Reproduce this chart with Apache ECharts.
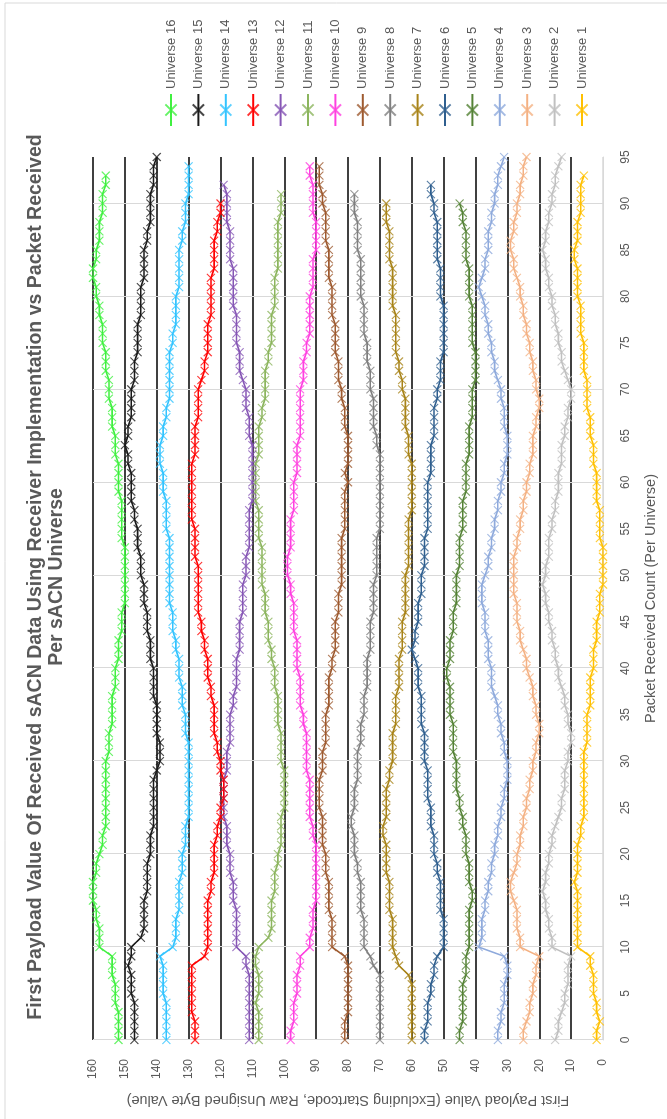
<!DOCTYPE html>
<html><head><meta charset="utf-8">
<script src="https://cdn.jsdelivr.net/npm/echarts/dist/echarts.min.js"></script>
<style>
html,body{margin:0;padding:0;width:667px;height:1119px;overflow:hidden;background:#fff;}
#chart{position:absolute;left:0;top:0;width:1119px;height:667px;transform-origin:0 0;transform:translate(0,1119px) rotate(-90deg);}
</style></head><body><div id="chart"></div>
<script>
// First payload value per packet received count (index = packet received count)
const u1=[2,2,1,2,2,3,3,3,4,4,8,8,8,8,8,8,8,9,8,8,8,8,7,7,6,6,6,6,6,6,6,6,5,5,5,5,4,4,4,4,3,3,3,2,2,2,1,1,1,0,0,0,0,0,1,1,1,1,2,2,2,2,3,3,3,4,4,4,5,5,5,5,6,6,6,6,7,7,7,7,8,8,8,8,9,9,8,8,8,7,7,7,7,6];
const u2=[15,14,14,13,12,12,11,11,11,10,16,16,17,17,18,18,19,18,18,17,17,16,16,15,14,13,13,12,12,12,11,11,10,10,11,11,12,12,13,14,14,15,15,16,16,17,17,18,18,19,18,18,17,17,17,16,16,15,15,14,14,14,13,13,13,12,12,11,11,10,10,11,12,13,13,14,14,15,15,16,16,17,17,18,18,19,18,18,17,17,16,16,15,15,14,13];
const u3=[25,25,24,23,23,22,22,21,21,20,26,26,27,27,27,28,29,29,28,27,27,26,26,25,25,24,24,23,23,22,22,21,21,20,20,21,21,22,22,23,24,24,25,26,26,27,27,27,28,28,28,28,28,27,27,26,26,25,25,24,24,23,23,22,22,22,21,21,20,20,21,21,22,22,23,23,24,24,25,25,26,26,27,28,28,29,29,28,28,27,27,26,26,25,25,24];
const u4=[33,33,32,32,31,31,31,30,30,31,39,38,38,38,37,37,36,36,35,35,34,34,33,33,32,32,31,31,30,30,30,31,31,32,32,33,33,34,35,35,35,36,36,36,37,37,37,38,38,38,37,36,36,35,35,34,34,33,33,32,32,31,31,30,30,30,31,31,31,32,32,33,34,34,35,35,36,36,37,37,38,39,38,37,37,36,36,36,35,35,34,34,33,33,32,31];
const u5=[45,45,44,44,44,44,44,43,43,43,42,42,42,42,42,41,41,42,42,42,43,43,43,44,44,45,45,46,46,46,46,47,47,47,47,48,48,48,48,49,49,48,48,48,47,47,47,46,46,46,46,45,45,45,45,44,44,44,44,43,43,43,43,42,42,42,42,41,41,41,41,40,40,40,40,41,41,41,41,41,42,42,42,42,43,43,43,43,44,44,45];
const u6=[56,56,55,55,55,54,54,53,53,52,50,50,50,50,51,51,51,51,52,52,53,53,53,54,54,54,55,55,55,55,56,56,56,56,57,57,57,57,58,58,58,59,60,59,59,58,58,58,57,57,57,56,56,56,56,55,55,55,55,55,55,54,54,54,54,53,53,53,53,52,52,51,51,51,50,50,50,50,50,50,51,51,51,51,52,52,52,52,52,53,53,54,54];
const u7=[60,60,60,60,60,60,60,61,64,65,66,66,66,66,67,67,67,67,68,68,68,68,69,69,68,68,68,68,67,67,66,66,66,66,65,65,65,65,64,64,64,64,63,63,63,63,62,62,62,62,62,61,61,61,61,61,61,60,60,60,60,60,60,61,61,61,62,62,62,62,63,63,64,64,65,65,65,65,65,66,66,66,66,66,67,67,67,67,68,68,68];
const u8=[70,70,70,70,70,70,70,70,72,73,75,75,75,75,76,76,76,76,77,77,78,78,78,79,79,78,78,78,77,77,77,77,76,76,76,75,75,75,74,74,74,74,73,73,73,73,72,72,72,72,71,71,71,71,71,70,70,70,70,70,70,70,70,70,71,71,72,72,72,72,73,73,73,74,74,74,75,75,75,75,76,76,76,76,76,77,77,77,77,78,78,78];
const u9=[81,81,81,80,80,80,80,80,80,81,85,85,85,85,86,86,86,86,87,87,87,88,88,88,88,89,89,89,89,88,88,88,87,87,87,87,86,86,86,86,85,85,84,84,84,84,83,83,83,82,82,82,82,82,82,81,81,81,81,81,80,81,80,80,80,80,81,81,81,82,82,83,83,83,84,84,84,84,85,85,85,85,86,86,86,86,87,87,87,87,88,88,89,89,89];
const u10=[98,98,97,97,97,96,96,96,95,95,92,92,91,91,91,90,90,90,90,90,90,90,91,91,92,92,92,92,92,93,93,93,93,93,94,94,95,95,95,95,96,96,96,96,97,97,97,97,98,98,99,99,99,98,98,98,98,97,97,97,97,96,96,96,96,95,95,95,95,95,95,94,94,94,93,93,92,92,92,92,92,91,91,91,91,90,90,90,90,91,91,91,91,92,92];
const u11=[108,108,108,108,109,108,108,108,109,109,108,105,104,104,104,104,103,103,103,102,102,101,101,101,101,100,100,100,100,100,101,101,101,101,102,102,102,102,103,103,103,104,104,105,105,105,106,106,106,107,107,107,107,107,108,108,108,108,109,109,109,109,109,108,108,108,108,107,107,106,106,106,106,105,105,104,104,104,104,103,103,103,103,102,102,102,102,102,102,101,101,101];
const u12=[111,111,111,111,111,111,111,111,112,112,115,115,115,115,115,116,116,116,117,117,117,118,118,118,119,119,119,119,119,118,118,118,117,117,117,117,116,116,115,115,115,115,114,114,114,114,113,113,113,113,112,112,112,111,111,111,111,111,110,110,110,110,110,110,110,111,111,111,112,112,112,113,114,114,114,115,115,115,115,116,116,116,116,116,117,117,117,117,118,118,118,118,119];
const u13=[128,128,128,129,129,129,129,129,129,125,124,124,124,124,124,124,123,123,122,122,122,122,121,121,120,120,119,119,119,120,120,121,121,122,122,122,122,123,123,124,124,124,125,125,126,126,127,127,127,127,127,127,128,128,128,128,129,129,129,129,129,129,129,128,128,128,128,127,127,127,127,126,125,125,124,124,124,124,123,123,123,123,123,122,122,122,122,121,121,120,120];
const u14=[137,137,137,137,137,138,138,138,138,139,135,134,134,134,133,133,133,133,132,132,132,131,131,131,130,130,130,130,130,130,130,130,130,131,131,131,132,132,132,133,133,133,134,134,135,135,135,136,136,136,136,136,136,136,136,137,137,137,137,138,138,138,139,139,139,138,138,137,137,136,136,136,136,136,136,135,135,134,134,134,134,133,133,133,133,133,132,132,131,131,131,130,130,130,130];
const u15=[147,147,147,147,147,148,148,148,149,148,148,145,144,144,144,144,143,143,143,143,142,142,142,141,141,141,141,141,141,140,139,139,139,140,140,140,140,141,141,141,141,142,142,142,143,143,143,144,144,144,145,145,145,146,146,146,147,147,148,148,148,148,149,149,150,149,149,148,148,148,148,147,147,147,146,146,146,146,145,145,145,145,144,144,144,144,143,143,142,142,142,142,141,141,141,140];
const u16=[152,152,152,152,153,153,153,154,154,154,158,158,158,159,159,160,160,160,159,159,158,157,157,156,156,156,156,156,156,156,156,155,155,155,154,154,154,154,153,153,153,152,152,152,151,151,151,150,150,150,150,150,150,150,151,151,151,151,151,152,152,152,152,153,153,153,154,154,154,155,155,155,156,156,156,157,157,157,158,158,159,159,160,160,159,159,158,158,158,157,157,157,156,156];

const seriesNames=['Universe 1','Universe 2','Universe 3','Universe 4','Universe 5','Universe 6','Universe 7','Universe 8','Universe 9','Universe 10','Universe 11','Universe 12','Universe 13','Universe 14','Universe 15','Universe 16'];
const seriesValues=[u1,u2,u3,u4,u5,u6,u7,u8,u9,u10,u11,u12,u13,u14,u15,u16];
const seriesColors=['#FFC000','#C0C0C0','#F4B183','#8FAADC','#548235','#2F5F8F','#A88318','#7F7F7F','#9E5A2F','#FF40E0','#8CB55E','#8656B5','#FF0000','#33C4FF','#1A1A1A','#40F040'];

const titleText='First Payload Value Of Received sACN Data Using Receiver Implementation vs Packet Received\nPer sACN Universe';
const xName='Packet Received Count (Per Universe)';
const yName='First Payload Value (Excluding Startcode, Raw Unsigned Byte Value)';

const FONT='Liberation Sans, Arial, sans-serif';
const TXT='#595959';

const ySplitColors=['#D9D9D9'];
for(let i=0;i<16;i++) ySplitColors.push('#000000');

const chart=echarts.init(document.getElementById('chart'));
chart.setOption({
  animation:false,
  backgroundColor:'#ffffff',
  textStyle:{fontFamily:FONT},
  legend:{orient:'vertical',left:992,top:164,padding:0,itemWidth:32,itemHeight:14,itemGap:13.4,
    data:seriesNames.slice().reverse(),
    textStyle:{fontFamily:FONT,fontSize:13,lineHeight:14,color:TXT}},
  graphic:[
    {type:'rect',silent:true,shape:{x:-5,y:5,width:1121,height:680},
      style:{fill:'none',stroke:'#D9D9D9',lineWidth:1}},
    {type:'text',silent:true,x:542,y:25,
      style:{text:titleText,align:'center',verticalAlign:'top',fill:TXT,
        font:'bold 19.5px '+FONT,lineHeight:21}}
  ],
  grid:{left:79,right:157,top:93,bottom:64,containLabel:false,outerBoundsMode:'none'},
  xAxis:{type:'value',min:0,max:95,interval:5,
    name:xName,nameLocation:'middle',nameGap:40,
    nameTextStyle:{fontFamily:FONT,fontSize:14.5,color:TXT},
    axisLine:{show:true,lineStyle:{color:'#D9D9D9',width:1}},
    axisTick:{show:false},
    axisLabel:{margin:17,fontFamily:FONT,fontSize:12,color:TXT},
    splitLine:{show:true,lineStyle:{color:['#D9D9D9','rgba(0,0,0,0)'],width:1}}},
  yAxis:{type:'value',min:0,max:160,interval:10,
    name:yName,nameLocation:'middle',nameGap:53,
    nameTextStyle:{fontFamily:FONT,fontSize:14.5,color:TXT},
    axisLine:{show:false},axisTick:{show:false},
    axisLabel:{margin:19,fontFamily:FONT,fontSize:12,color:TXT},
    splitLine:{show:true,lineStyle:{color:ySplitColors,width:1.5}}},
  series:seriesValues.map((vals,k)=>({
    name:seriesNames[k],type:'line',
    data:vals.map((v,i)=>[i,v]),
    symbol:'path://M0 0L10 10M10 0L0 10',symbolSize:8,showAllSymbol:true,
    lineStyle:{color:seriesColors[k],width:1.6},
    itemStyle:{color:seriesColors[k],borderColor:seriesColors[k],borderWidth:1.1,opacity:0.8},
    emphasis:{disabled:true}
  }))
});
</script></body></html>
